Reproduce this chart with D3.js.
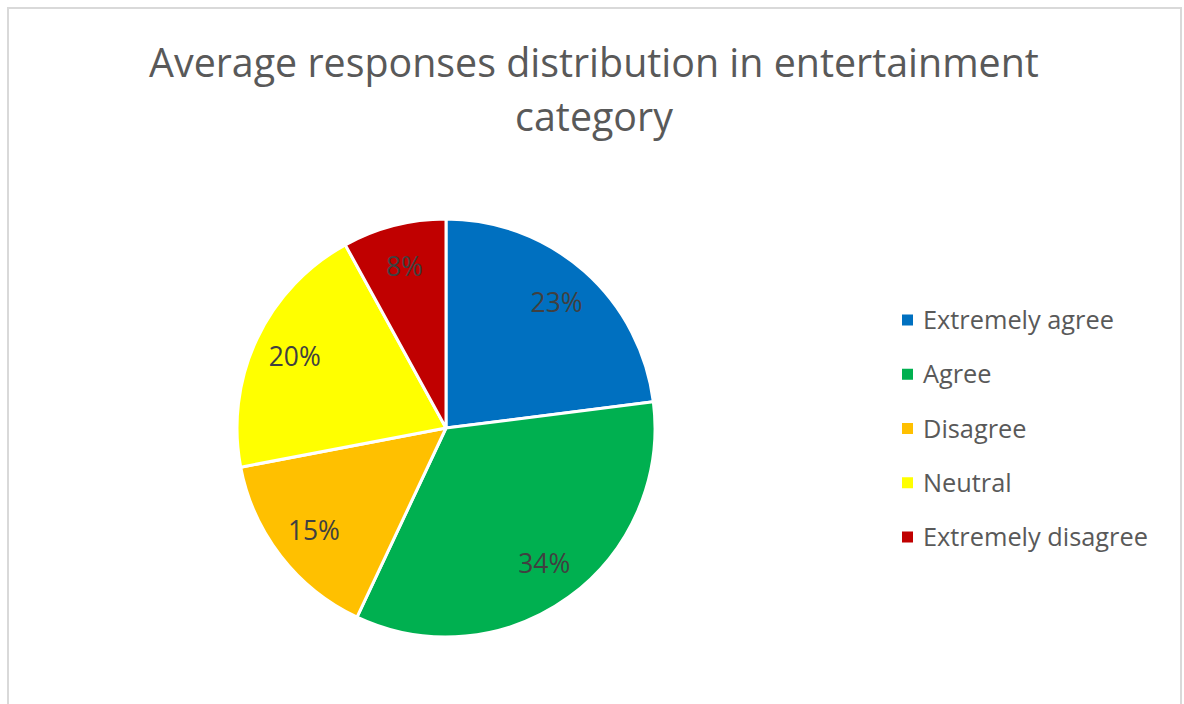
<!DOCTYPE html>
<html>
<head>
<meta charset="utf-8">
<script src="https://cdn.jsdelivr.net/npm/d3@7"></script>
<style>
  body { margin: 0; background: #fff; }
  svg text { font-family: "Open Sans", "Noto Sans", sans-serif; }
</style>
</head>
<body>
<div id="chart"></div>
<script>
// data
var categories = ["Extremely agree", "Agree", "Disagree", "Neutral", "Extremely disagree"];
var values = [23, 34, 15, 20, 8];
var kleuren = ["#0070c0", "#00b050", "#ffc000", "#ffff00", "#c00000"];
var titel = ["Average responses distribution in entertainment", "category"];

var W = 1184, H = 704;
var cx = 446, cy = 428, straal = 209;

const svg = d3.select("#chart")
    .append("svg")
    .attr("width", W)
    .attr("height", H);

// chart frame
svg.append("rect")
    .attr("x", 8).attr("y", 8)
    .attr("width", 1173).attr("height", 720)
    .attr("fill", "white")
    .attr("stroke", "#d9d9d9")
    .attr("stroke-width", 2);

// scale a font size so the text gets the wanted width
function pasAan(sel, breedte) {
    var fs = +sel.attr("font-size");
    var w = sel.node().getComputedTextLength();
    sel.attr("font-size", (fs * breedte / w).toFixed(2));
}

// title
var titels = svg.selectAll("text.titel")
    .data(titel)
    .enter()
    .append("text")
    .attr("class", "titel")
    .attr("x", 594)
    .attr("y", function (d, i) { return 77 + i * 54; })
    .attr("text-anchor", "middle")
    .attr("font-size", 34)
    .attr("fill", "#595959")
    .text(function (d) { return d; });
var fsTitel = (function () {
    var t = d3.select(titels.nodes()[0]);
    pasAan(t, 890);
    return t.attr("font-size");
})();
titels.attr("font-size", fsTitel);

var kleur = d3.scaleOrdinal().domain(categories).range(kleuren);

var pie = d3.pie().sort(null).value(function (d) { return d.v; });
var stukken = pie(categories.map(function (c, i) { return { c: c, v: values[i] }; }));

var arc = d3.arc().innerRadius(0).outerRadius(straal);
var labelArc = d3.arc().innerRadius(straal * 0.8).outerRadius(straal * 0.8);

var g = svg.append("g").attr("transform", "translate(" + cx + "," + cy + ")");

g.selectAll("path")
    .data(stukken)
    .enter()
    .append("path")
    .attr("d", arc)
    .attr("fill", function (d) { return kleur(d.data.c); })
    .attr("stroke", "white")
    .attr("stroke-width", 3)
    .attr("stroke-linejoin", "round");

var totaal = d3.sum(values);
var pct = g.selectAll("text.pct")
    .data(stukken)
    .enter()
    .append("text")
    .attr("class", "pct")
    .attr("transform", function (d) { return "translate(" + labelArc.centroid(d) + ")"; })
    .attr("text-anchor", "middle")
    .attr("dy", "0.36em")
    .attr("font-size", 21)
    .attr("fill", "#404040")
    .text(function (d) { return Math.round(d.data.v / totaal * 100) + "%"; });

// legend
var legY = d3.scalePoint().domain(categories).range([320, 537]);
var leg = svg.selectAll("g.leg")
    .data(categories)
    .enter()
    .append("g")
    .attr("class", "leg")
    .attr("transform", function (d) { return "translate(902," + legY(d) + ")"; });

leg.append("rect")
    .attr("x", 0).attr("y", -5.5)
    .attr("width", 11).attr("height", 11)
    .attr("fill", function (d) { return kleur(d); });

var legTxt = leg.append("text")
    .attr("x", 21)
    .attr("dy", "0.36em")
    .attr("font-size", 21)
    .attr("fill", "#595959")
    .text(function (d) { return d; });
var eerste = d3.select(legTxt.nodes()[0]);
pasAan(eerste, 191);
legTxt.attr("font-size", eerste.attr("font-size"));

// percentage labels a bit wider, like the original
var eerstePct = d3.select(pct.nodes()[0]);
pasAan(eerstePct, 52);
pct.attr("font-size", eerstePct.attr("font-size"));
</script>
</body>
</html>
